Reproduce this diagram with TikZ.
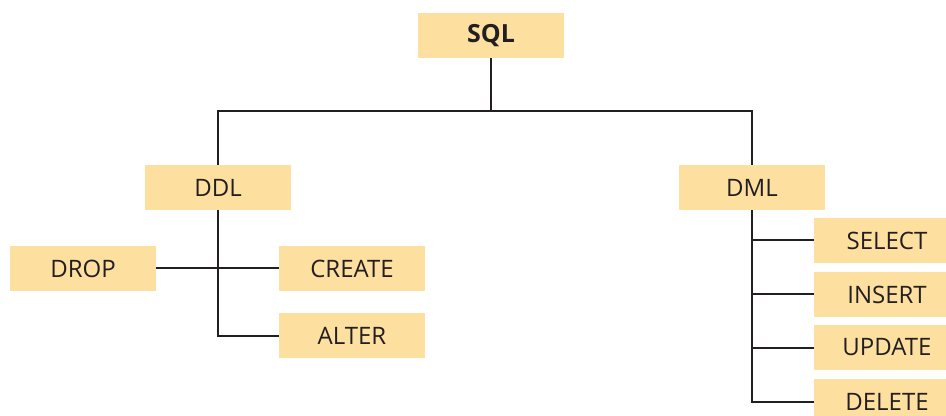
\documentclass[tikz,border=0pt]{standalone}
\usepackage{fontspec}
\setmainfont{Open Sans}
\usepackage{xcolor}
\usepackage{tikz}
\usetikzlibrary{positioning, calc}
\definecolor{boxfill}{HTML}{FDDF9F}
\definecolor{linedark}{HTML}{231F20}

\tikzset{
  sqlbox/.style={rectangle, fill=boxfill, minimum width=73pt, minimum height=22.5pt, inner sep=0pt, text=linedark, font=\fontsize{12}{14}\selectfont},
  branch/.style={draw=linedark, line width=1pt}
}

\begin{document}
\begin{tikzpicture}[x=0.5pt, y=-0.5pt]
\useasboundingbox (0,0) rectangle (946,416);

% Root
\node[sqlbox, font=\fontsize{12.5}{14}\selectfont\bfseries] (sql) at (491,35.5) {SQL};
\coordinate (split) at (491,111);

% Level 1
\node[sqlbox] (ddl) at (218,187.5) {DDL};
\node[sqlbox] (dml) at (752,187.5) {DML};

% DDL commands
\node[sqlbox] (drop) at (83,268.5) {DROP};
\node[sqlbox] (create) at (352,268.5) {CREATE};
\node[sqlbox] (alter) at (352,335.5) {ALTER};

% DML commands
\node[sqlbox] (select) at (887,240.5) {SELECT};
\node[sqlbox] (insert) at (887,294.5) {INSERT};
\node[sqlbox] (update) at (887,347.5) {UPDATE};
\node[sqlbox] (delete) at (887,401.5) {DELETE};

% Connectors
\draw[branch] (sql.south) -- (split);
\draw[branch] (ddl.north) |- (split) -| (dml.north);
\draw[branch] (ddl.south) |- (alter.west);
\draw[branch] (drop.east) -- (create.west);
\draw[branch] (dml.south) |- (delete.west);
\draw[branch] (dml.south |- select.west) -- (select.west);
\draw[branch] (dml.south |- insert.west) -- (insert.west);
\draw[branch] (dml.south |- update.west) -- (update.west);
\end{tikzpicture}
\end{document}
